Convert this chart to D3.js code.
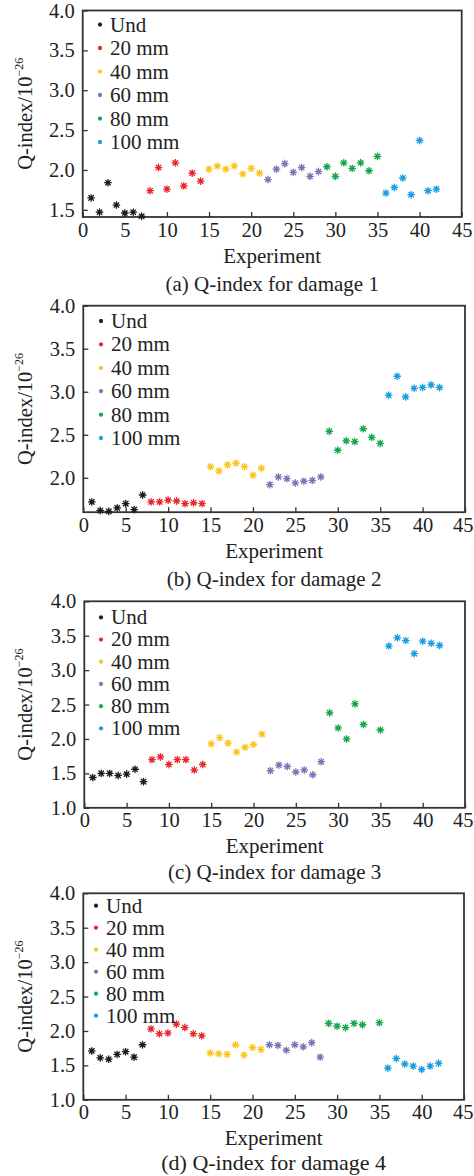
<!DOCTYPE html>
<html>
<head>
<meta charset="utf-8">
<script src="https://cdn.jsdelivr.net/npm/d3@7"></script>
<style>
  body { margin: 0; background: #fff; }
  svg text { font-family: "Liberation Serif", "Times New Roman", serif; fill: #222; }
</style>
</head>
<body>
<div id="chart"></div>
<script>
// ---- data ----
const groups = ["Und", "20 mm", "40 mm", "60 mm", "80 mm", "100 mm"];
const colors = ["#1c1c1c", "#e8262b", "#fbc41c", "#7c73b8", "#13a64b", "#1a9de0"];

const expUnd   = [1, 2, 3, 4, 5, 6, 7];
const exp20    = [8, 9, 10, 11, 12, 13, 14];
const exp40    = [15, 16, 17, 18, 19, 20, 21];
const exp60    = [22, 23, 24, 25, 26, 27, 28];
const exp80    = [29, 30, 31, 32, 33, 34, 35];
const exp80b   = [29, 30, 31, 32, 33, 35];
const exp100   = [36, 37, 38, 39, 40, 41, 42];

// damage 1
const d1Und = [1.65, 1.47, 1.84, 1.56, 1.46, 1.47, 1.42];
const d1_20 = [1.74, 2.03, 1.76, 2.09, 1.80, 1.96, 1.86];
const d1_40 = [2.01, 2.05, 2.01, 2.05, 1.95, 2.02, 1.96];
const d1_60 = [1.88, 2.01, 2.08, 1.97, 2.03, 1.92, 1.98];
const d1_80 = [2.04, 1.92, 2.09, 2.02, 2.09, 1.99, 2.17];
const d1_100 = [1.71, 1.78, 1.90, 1.69, 2.37, 1.74, 1.76];

// damage 2
const d2Und = [1.72, 1.62, 1.61, 1.65, 1.70, 1.63, 1.80];
const d2_20 = [1.72, 1.72, 1.74, 1.73, 1.70, 1.71, 1.70];
const d2_40 = [2.13, 2.08, 2.15, 2.17, 2.13, 2.03, 2.11];
const d2_60 = [1.92, 2.01, 1.99, 1.94, 1.96, 1.97, 2.01];
const d2_80 = [2.54, 2.32, 2.43, 2.42, 2.57, 2.47, 2.40];
const d2_100 = [2.96, 3.18, 2.94, 3.04, 3.05, 3.08, 3.05];

// damage 3
const d3Und = [1.44, 1.50, 1.50, 1.47, 1.49, 1.56, 1.38];
const d3_20 = [1.70, 1.74, 1.63, 1.70, 1.70, 1.55, 1.63];
const d3_40 = [1.93, 2.02, 1.94, 1.81, 1.88, 1.92, 2.07];
const d3_60 = [1.54, 1.62, 1.60, 1.52, 1.55, 1.48, 1.67];
const d3_80 = [2.38, 2.16, 2.00, 2.51, 2.21, 2.13];
const d3_100 = [3.35, 3.47, 3.43, 3.24, 3.42, 3.39, 3.36];

// damage 4
const d4Und = [1.71, 1.61, 1.59, 1.66, 1.70, 1.62, 1.80];
const d4_20 = [2.03, 1.96, 1.97, 2.10, 2.05, 1.96, 1.93];
const d4_40 = [1.68, 1.67, 1.66, 1.80, 1.65, 1.76, 1.73];
const d4_60 = [1.80, 1.79, 1.72, 1.80, 1.77, 1.83, 1.62];
const d4_80 = [2.11, 2.07, 2.05, 2.11, 2.09, 2.12];
const d4_100 = [1.46, 1.60, 1.52, 1.49, 1.44, 1.49, 1.53];

const xTicks = [0, 5, 10, 15, 20, 25, 30, 35, 40, 45];
const yTicksA = [1.5, 2.0, 2.5, 3.0, 3.5, 4.0];
const yTicksB = [2.0, 2.5, 3.0, 3.5, 4.0];
const yTicksC = [1.0, 1.5, 2.0, 2.5, 3.0, 3.5, 4.0];

const captions = [
  "(a) Q-index for damage 1", "(b) Q-index for damage 2",
  "(c) Q-index for damage 3", "(d) Q-index for damage 4"
];

const panels = [
  { exps: [expUnd, exp20, exp40, exp60, exp80, exp100], vals: [d1Und, d1_20, d1_40, d1_60, d1_80, d1_100],
    yDomain: [1.41, 4.0], yTicks: yTicksA,
    top: 10.5, left: 82.7, right: 461.7, legX: 100, legY: 14, legStep: 23.5, capY: 74, capSize: 21 },
  { exps: [expUnd, exp20, exp40, exp60, exp80, exp100], vals: [d2Und, d2_20, d2_40, d2_60, d2_80, d2_100],
    yDomain: [1.6, 4.0], yTicks: yTicksB,
    top: 305.7, left: 83.3, right: 465, legX: 101, legY: 15.3, legStep: 23.4, capY: 74, capSize: 21 },
  { exps: [expUnd, exp20, exp40, exp60, exp80b, exp100], vals: [d3Und, d3_20, d3_40, d3_60, d3_80, d3_100],
    yDomain: [1.0, 4.0], yTicks: yTicksC,
    top: 601.3, left: 84.3, right: 465, legX: 101, legY: 16, legStep: 22.2, capY: 71.5, capSize: 21 },
  { exps: [expUnd, exp20, exp40, exp60, exp80b, exp100], vals: [d4Und, d4_20, d4_40, d4_60, d4_80, d4_100],
    yDomain: [1.0, 4.0], yTicks: yTicksC,
    top: 893.3, left: 83.3, right: 464, legX: 96, legY: 12.3, legStep: 22, capY: 70, capSize: 22 }
];

const W = 474, H = 1176, plotH = 206.5;
const serif = '"Liberation Serif", "Times New Roman", serif';

const svg = d3.select("#chart").append("svg")
  .attr("width", W).attr("height", H)
  .attr("viewBox", `0 0 ${W} ${H}`);

// 8-arm asterisk marker
const asterisk = {
  draw(context, size) {
    const r = Math.sqrt(size) / 2;
    const d = r * Math.SQRT1_2;
    context.moveTo(-r, 0); context.lineTo(r, 0);
    context.moveTo(0, -r); context.lineTo(0, r);
    context.moveTo(-d, -d); context.lineTo(d, d);
    context.moveTo(-d, d); context.lineTo(d, -d);
  }
};
const bigStar = d3.symbol().type(asterisk).size(44);
const smallStar = d3.symbol().type(asterisk).size(18);

panels.forEach((p, pi) => {
  const g = svg.append("g").attr("transform", `translate(0, ${p.top})`);
  const x = d3.scaleLinear().domain([0, 45]).range([p.left, p.right]);
  const y = d3.scaleLinear().domain(p.yDomain).range([plotH, 0]);

  // axes, ticks pointing inside
  const xa = g.append("g")
    .attr("transform", `translate(0, ${plotH})`)
    .call(d3.axisBottom(x).tickValues(xTicks).tickFormat(d3.format("d"))
      .tickSizeInner(-5).tickSizeOuter(0).tickPadding(5));
  const ya = g.append("g")
    .attr("transform", `translate(${p.left}, 0)`)
    .call(d3.axisLeft(y).tickValues(p.yTicks).tickFormat(d3.format(".1f"))
      .tickSizeInner(-5).tickSizeOuter(0).tickPadding(8));
  [xa, ya].forEach(a => {
    a.select(".domain").remove();
    a.selectAll("line").attr("stroke", "#333").attr("stroke-width", 1.3);
    a.selectAll("text").attr("font-size", 20.5).attr("fill", "#222")
      .style("font-family", serif);
  });

  // keep the last x label inside the page
  xa.selectAll(".tick text").each(function () {
    const t = this.getBoundingClientRect();
    if (t.right > W - 0.5) d3.select(this).attr("dx", -(t.right - W + 0.5));
  });

  // frame
  g.append("rect")
    .attr("x", p.left).attr("y", 0)
    .attr("width", p.right - p.left).attr("height", plotH)
    .attr("fill", "none").attr("stroke", "#333").attr("stroke-width", 1.8);

  // points
  groups.forEach((name, gi) => {
    const pts = p.exps[gi].map((e, i) => ({ e, v: p.vals[gi][i] }));
    const sg = g.append("g");
    sg.selectAll("circle").data(pts).join("circle")
      .attr("cx", d => x(d.e)).attr("cy", d => y(d.v))
      .attr("r", 1.9).attr("fill", colors[gi]).attr("opacity", 0.9);
    sg.selectAll("path").data(pts).join("path")
      .attr("transform", d => `translate(${x(d.e)}, ${y(d.v)})`)
      .attr("d", bigStar)
      .attr("fill", "none").attr("stroke", colors[gi])
      .attr("stroke-width", 1.3).attr("stroke-linecap", "round");
  });

  // legend
  const leg = g.append("g");
  groups.forEach((name, gi) => {
    const cy = p.legY + gi * p.legStep;
    leg.append("path")
      .attr("transform", `translate(${p.legX}, ${cy})`)
      .attr("d", smallStar)
      .attr("fill", "none").attr("stroke", colors[gi]).attr("stroke-width", 1.2);
    leg.append("circle").attr("cx", p.legX).attr("cy", cy).attr("r", 1.2).attr("fill", colors[gi]);
    leg.append("text")
      .attr("x", p.legX + 10).attr("y", cy + 7)
      .attr("font-size", 21)
      .text(name);
  });

  // y label
  const yl = g.append("text")
    .attr("transform", `translate(32, ${plotH / 2}) rotate(-90)`)
    .attr("text-anchor", "middle")
    .attr("font-size", 20.5);
  yl.append("tspan").text("Q-index/10");
  yl.append("tspan").attr("font-size", 12).attr("dy", -9).text("\u221226");

  // x label
  g.append("text")
    .attr("x", (p.left + p.right) / 2).attr("y", plotH + 45.5)
    .attr("text-anchor", "middle").attr("font-size", 21)
    .text("Experiment");

  // caption
  g.append("text")
    .attr("x", (p.left + p.right) / 2).attr("y", plotH + p.capY)
    .attr("text-anchor", "middle").attr("font-size", p.capSize)
    .text(captions[pi]);
});
</script>
</body>
</html>
